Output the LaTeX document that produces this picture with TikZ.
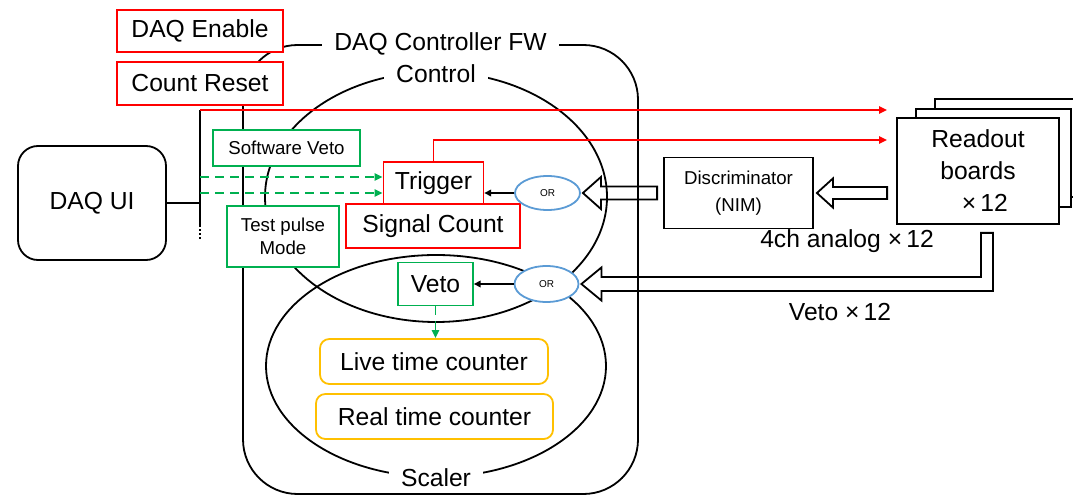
\documentclass[tikz,border=0pt]{standalone}
\usepackage{fontspec}
\setmainfont{Liberation Sans}
\usetikzlibrary{arrows.meta,positioning,calc,shapes.geometric}

\definecolor{fwred}{RGB}{255,0,0}
\definecolor{fwgreen}{RGB}{0,176,80}
\definecolor{fwgold}{RGB}{255,192,0}
\definecolor{fwblue}{RGB}{91,155,213}

\newcommand{\bigfont}{\fontsize{18.5}{24}\selectfont}
\newcommand{\smallfont}{\fontsize{14}{17}\selectfont}
\newcommand{\orfont}{\fontsize{7.5}{9}\selectfont}

% open block arrow pointing left: tail, tip, body half height, head half height, head length
\newcommand{\hollowarrow}[5]{%
  \draw ($(#1)+(0,#3)$) -- ($(#2)+(#5,#3)$) -- ($(#2)+(#5,#4)$) -- (#2)
     -- ($(#2)+(#5,-#4)$) -- ($(#2)+(#5,-#3)$) -- ($(#1)+(0,-#3)$) -- cycle;}

\begin{document}
\begin{tikzpicture}[x=0.75pt, y=-0.75pt, line width=1.35pt, font=\bigfont,
    sized/.style 2 args={minimum width=#1*0.75pt, minimum height=#2*0.75pt},
    >={Triangle[length=6pt,width=5.5pt]}]
    \tikzstyle{every node}=[inner sep=0pt]
    \tikzstyle{redbox}=[draw=fwred, fill=white]
    \tikzstyle{greenbox}=[draw=fwgreen, fill=white]
    \tikzstyle{goldbox}=[draw=fwgold, fill=white, rounded corners=7pt]
    \tikzstyle{blkbox}=[draw=black, fill=white]
    \tikzstyle{orbox}=[draw=fwblue, fill=white, ellipse, font=\orfont]
    \tikzstyle{gap}=[fill=white, inner xsep=9pt, inner ysep=2pt]
    \tikzstyle{redline}=[draw=fwred, line width=1.2pt, ->, >={Triangle[length=6pt,width=5.5pt]}]
    \tikzstyle{gdash}=[draw=fwgreen, line width=1.2pt, dash pattern=on 6.75pt off 4.5pt, ->]
    \tikzstyle{thin}=[line width=1pt, ->, >={Triangle[length=5pt,width=5pt]}]

    \useasboundingbox (0,0) rectangle (1073,495);

    % firmware frame and its two blocks
    \node[draw, rounded corners=41pt, sized={395}{449}] (fw) at (440.5,269.5) {};
    \node[draw, ellipse, sized={342}{250}] (ctrl) at (436,197) {};
    \node[draw, ellipse, sized={340}{222}] (scaler) at (436,366) {};
    \node[gap] (fwlabel) at (fw.north) {DAQ Controller FW};
    \node[gap] (ctrllabel) at ([yshift=-2.25pt]ctrl.north) {Control};
    \node[gap] (scalerlabel) at (scaler.south) {Scaler};

    % host side
    \node[blkbox, rounded corners=15pt, sized={148}{114}] (ui) at (92,203) {DAQ UI};
    \node[redbox, sized={166}{42}] (enable) at (200,31) {DAQ Enable};
    \node[redbox, sized={166}{43}] (reset) [below=6pt of enable] {Count Reset};

    % control block
    \node[greenbox, sized={147}{36}, font=\smallfont] (swveto) at (286.5,148) {Software Veto};
    \node[greenbox, sized={112}{61}, font=\smallfont, align=center] (tpmode) at (283,236.5) {Test pulse\\Mode};
    \node[redbox, sized={100}{42}] (trigger) at (433.5,183) {Trigger};
    \node[redbox, sized={174}{44}] (sigcount) at (433,226) {Signal Count};
    \node[orbox, sized={65}{34}] (or1) at (547.5,193) {OR};

    % scaler block
    \node[greenbox, sized={75}{43}] (veto) at (435.5,284) {Veto};
    \node[orbox, sized={64}{36}] (or2) at (546.5,284) {OR};
    \node[goldbox, sized={228}{45}] (live) at (434,361.5) {Live time counter};
    \node[goldbox, sized={237}{45}] (real) at (434.5,416.5) {Real time counter};

    % front end
    \node[blkbox, sized={149}{71}, font=\fontsize{14}{20}\selectfont, align=center] (disc) at (738.5,193) {Discriminator\\(NIM)};
    \node[blkbox, sized={155}{98}] (rb3) at (1012.5,148) {};
    \node[blkbox, sized={155}{98}] (rb2) at (993.5,158) {};
    \node[blkbox, sized={162}{106}, align=center] (readout) at (978,171) {Readout\\boards\\\ \ ×\,12};
    \node (analog) at (847,241) {4ch analog\ ×\,12};
    \node (vetolbl) at (840,312) {Veto\ ×\,12};

    % bus from the UI
    \coordinate (bus top) at (200,110);
    \coordinate (bus end) at (200,225);
    \draw (bus top) -- (bus end);
    \draw[dash pattern=on 1.5pt off 1.5pt] (bus end) -- ++(0,15);
    \draw (ui.east) -- (ui.east -| bus top);

    % red lines to the readout boards
    \coordinate (en tip) at (887,110);
    \coordinate (trig tip) at (887,140);
    \draw[redline] (bus top) -- (en tip);
    \draw[redline] (trigger.north) |- (trig tip);

    % software veto / test pulse
    \coordinate (sw in) at ([yshift=4.5pt]trigger.west);
    \coordinate (tp in) at ([yshift=-7.5pt]trigger.west);
    \draw[gdash] (sw in -| bus top) -- (sw in);
    \draw[gdash] (tp in -| bus top) -- (tp in);

    % OR outputs
    \draw[thin] (or1.west) -- (or1.west -| trigger.east);
    \draw[thin] (or2.west) -- (veto.east);
    \draw[gdash] (veto.south) -- (veto.south |- live.north);

    % block arrows
    \coordinate (d tip) at ([xshift=1.5pt]or1.east);
    \coordinate (d tail) at ([xshift=-4.5pt]disc.west);
    \hollowarrow{d tail}{d tip}{6.5}{16}{18}
    \coordinate (r tip) at ([xshift=2.25pt]disc.east);
    \coordinate (r tail) at ($(readout.west |- disc.east)+(-9,0)$);
    \hollowarrow{r tail}{r tip}{6}{14.5}{16}

    \coordinate (v top) at ($(readout.south)+(9,8)$);
    \coordinate (v tip) at ([xshift=1.5pt]or2.east);
    \draw ($(v top)+(-6,0)$) -- ($(v top)+(6,0)$) -- ($(v top |- v tip)+(6,7)$)
       -- ($(v tip)+(20,7)$) -- ($(v tip)+(20,16.5)$) -- (v tip)
       -- ($(v tip)+(20,-16.5)$) -- ($(v tip)+(20,-7)$)
       -- ($(v top |- v tip)+(-6,-7)$) -- cycle;

\end{tikzpicture}
\end{document}
